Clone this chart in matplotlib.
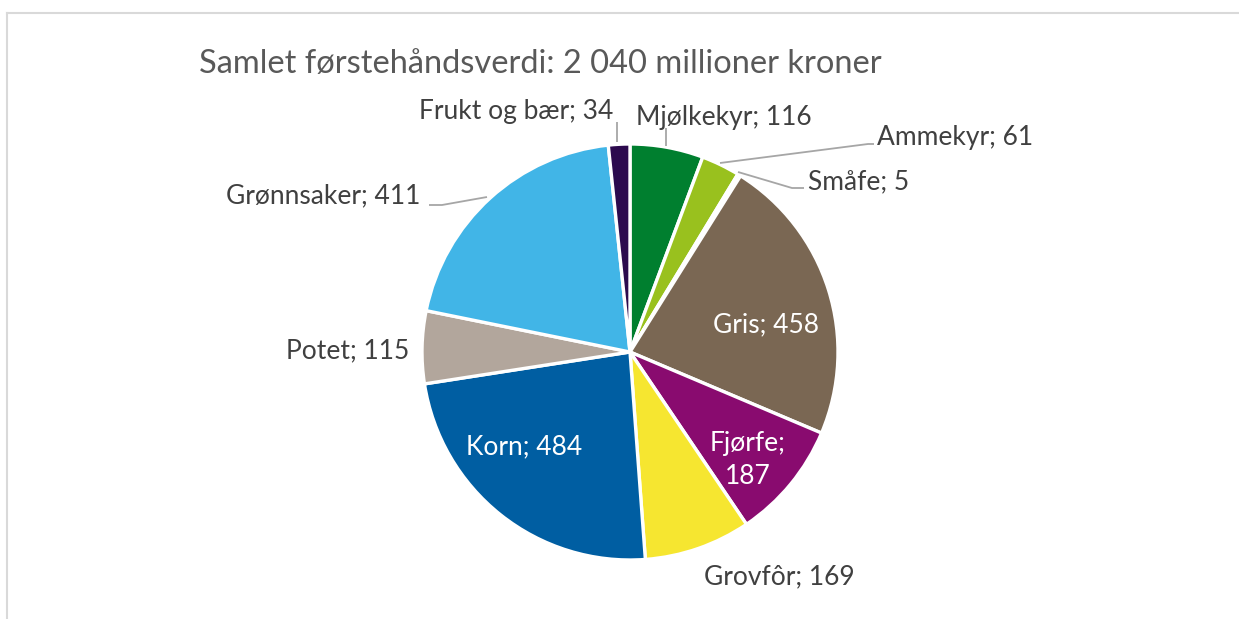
import matplotlib
matplotlib.use("Agg")
import matplotlib.pyplot as plt
from matplotlib.lines import Line2D

# ---- data ----
categories = ["Mjølkekyr", "Ammekyr", "Småfe", "Gris", "Fjørfe", "Grovfôr",
              "Korn", "Potet", "Grønnsaker", "Frukt og bær"]
values = [116, 61, 5, 458, 187, 169, 484, 115, 411, 34]
colors = ["#007F2F", "#99C11E", "#FFFFFF", "#7A6753", "#890B6F", "#F6E630",
          "#005EA2", "#B2A69C", "#41B5E7", "#2C0A4E"]
title_text = "Samlet førstehåndsverdi: 2 040 millioner kroner"

# ---- layout (pixel coordinates, y measured from top) ----
W, H = 1239, 619
center_px = (630, 352)
radius_px = 208
label_pos = {
    "Mjølkekyr": (724, 117), "Ammekyr": (955, 137), "Småfe": (859, 182),
    "Gris": (766, 325), "Fjørfe": (748, 460), "Grovfôr": (779, 577),
    "Korn": (524, 447), "Potet": (348, 351), "Grønnsaker": (323, 196),
    "Frukt og bær": (516, 112),
}
inside = {"Gris", "Fjørfe", "Korn"}
leaders = {
    "Frukt og bær": [(617, 122), (617, 142)],
    "Mjølkekyr": [(666, 128), (666, 146)],
    "Ammekyr": [(720, 163), (868, 144), (874, 144)],
    "Småfe": [(738, 172), (792, 188), (804, 188)],
    "Grønnsaker": [(429, 205), (442, 205), (487, 197)],
}

plt.rcParams['font.family'] = ['Lato', 'DejaVu Sans']
fig = plt.figure(figsize=(W / 100, H / 100), dpi=100)
ax = fig.add_axes([0, 0, 1, 1])

def P(x, y):
    return x, H - y

ax.pie(values, colors=colors, startangle=90, counterclock=False,
       radius=radius_px, center=P(*center_px),
       wedgeprops=dict(edgecolor='white', linewidth=2.4), frame=True)
ax.set_xlim(0, W)
ax.set_ylim(0, H)
ax.set_aspect('equal')
ax.axis('off')

for cat, val in zip(categories, values):
    x, y = P(*label_pos[cat])
    if cat == "Fjørfe":
        txt = f"{cat};\n{val}"
    else:
        txt = f"{cat}; {val}"
    col = 'white' if cat in inside else '#404040'
    ax.text(x, y, txt, ha='center', va='center', multialignment='center',
            fontsize=19, color=col, linespacing=1.42)
    if cat in leaders:
        pts = [P(*p) for p in leaders[cat]]
        ax.plot([p[0] for p in pts], [p[1] for p in pts], color='#A6A6A6', lw=1.3,
                solid_capstyle='butt')

ax.text(*P(540, 64), title_text, ha='center', va='center', fontsize=23.5, color='#595959')

# chart frame (top and left edges visible)
fig.add_artist(Line2D([7 / W, 1], [1 - 12.5 / H, 1 - 12.5 / H], color='#D9D9D9', lw=1.5))
fig.add_artist(Line2D([7 / W, 7 / W], [0, 1 - 12.5 / H], color='#D9D9D9', lw=1.5))

fig.savefig("out.png", dpi=100)
